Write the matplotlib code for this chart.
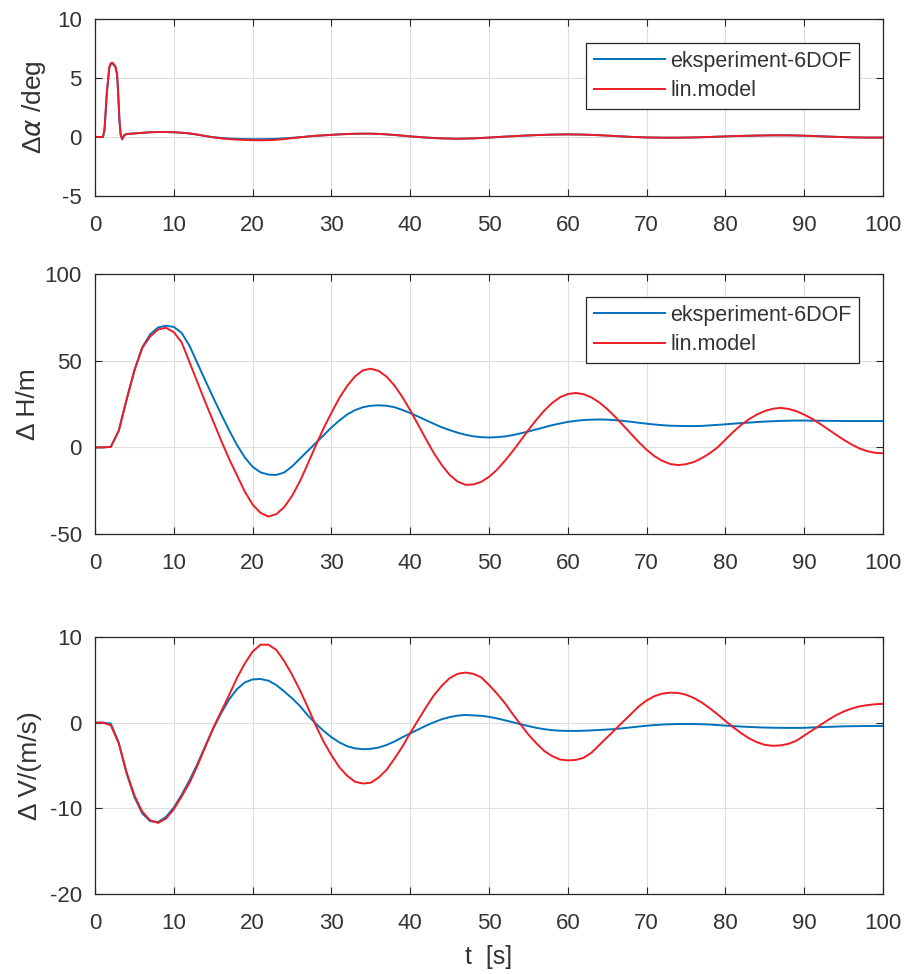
import numpy as np
import matplotlib.pyplot as plt

plt.rcParams['font.family'] = ['Liberation Sans', 'DejaVu Sans']
plt.rcParams['mathtext.fontset'] = 'dejavusans'
plt.rcParams['axes.unicode_minus'] = False

# --- data ------------------------------------------------------------------
t_alpha = [0, 1.0, 1.2, 1.5, 1.8, 2.0, 2.2, 2.4, 2.6, 2.8, 2.95, 3.1, 3.25, 3.45, 3.7,
           4, 5, 6, 7, 8, 9, 10, 11, 12, 13, 14, 15, 16, 17, 18, 19, 20, 21, 22, 23, 24,
           25, 26, 27, 28, 29, 30, 31, 32, 33, 34, 35, 36, 37, 38, 39, 40,
           42, 44, 46, 48, 50, 52, 54, 56, 58, 60, 62, 64, 66, 68, 70, 72, 74, 76, 78,
           80, 82, 84, 86, 88, 90, 92, 94, 96, 98, 100]
alpha_exp = [0, 0, 0.6, 3.7, 5.8, 6.2, 6.25, 6.1, 5.9, 5.3, 3.5, 1.4, 0.2, -0.2, 0.15,
             0.25, 0.3, 0.35, 0.4, 0.42, 0.42, 0.4, 0.36, 0.3, 0.2, 0.08, -0.02, -0.08,
             -0.13, -0.16, -0.18, -0.19, -0.19, -0.18, -0.16, -0.12, -0.07, -0.02,
             0.04, 0.1, 0.14, 0.18, 0.22, 0.25, 0.27, 0.28, 0.28, 0.26, 0.22, 0.17, 0.11, 0.05,
             -0.05, -0.12, -0.15, -0.12, -0.05, 0.03, 0.1, 0.16, 0.2, 0.22, 0.2, 0.15, 0.08,
             0.01, -0.04, -0.06, -0.06, -0.04, 0.0, 0.05, 0.09, 0.12, 0.14, 0.14, 0.11,
             0.06, 0.01, -0.03, -0.05, -0.05]
alpha_lin = [0, 0, 0.6, 3.8, 5.9, 6.25, 6.3, 6.15, 5.95, 5.3, 3.5, 1.4, 0.2, -0.2, 0.15,
             0.25, 0.3, 0.35, 0.4, 0.42, 0.42, 0.4, 0.36, 0.3, 0.2, 0.08, -0.03, -0.12,
             -0.18, -0.22, -0.25, -0.27, -0.28, -0.27, -0.24, -0.18, -0.1, -0.03,
             0.04, 0.1, 0.14, 0.18, 0.22, 0.25, 0.27, 0.28, 0.28, 0.26, 0.22, 0.17, 0.11, 0.05,
             -0.05, -0.12, -0.15, -0.12, -0.05, 0.03, 0.1, 0.16, 0.2, 0.22, 0.2, 0.15, 0.08,
             0.01, -0.04, -0.06, -0.06, -0.04, 0.0, 0.05, 0.09, 0.12, 0.14, 0.14, 0.11,
             0.06, 0.01, -0.03, -0.05, -0.05]

t = np.arange(0, 101)  # 1 s sampling for H and V

H_exp = [0, 0, 0.3, 9.5, 27.5, 44.5, 57.8, 65.3, 69.2, 70.2, 69.5, 66, 58.5, 48.5, 38.5,
         28.7, 19.2, 10, 1.5, -5.8, -11.2, -14.4, -15.7, -15.9, -14.5, -11, -6.5, -2, 2.5,
         7, 11.5, 15.5, 19, 21.5, 23.2, 24, 24.3, 24, 23.2, 21.6, 19.8, 17.8, 15.7, 13.6,
         11.6, 10, 8.5, 7.3, 6.4, 5.9, 5.7, 5.9, 6.3, 7.1, 8.1, 9.2, 10.4, 11.6, 12.8,
         13.8, 14.7, 15.3, 15.8, 16, 16.1, 16, 15.7, 15.3, 14.8, 14.2, 13.7, 13.2, 12.8,
         12.5, 12.4, 12.3, 12.3, 12.4, 12.7, 13, 13.3, 13.7, 14, 14.3, 14.6, 14.9, 15.1,
         15.3, 15.4, 15.5, 15.5, 15.4, 15.4, 15.3, 15.3, 15.2, 15.2, 15.2, 15.2, 15.2, 15.2]
H_lin = [0, 0, 0.3, 9.5, 27.5, 44.5, 57.5, 64, 68, 69, 66.5, 60.5, 49, 37.5, 26, 15, 4,
         -6.5, -16, -25.5, -33, -37.8, -39.9, -38.5, -34.5, -28, -19.5, -9.5, 1, 11, 20,
         28.5, 35.5, 41, 44.5, 45.4, 44.1, 40.8, 35.7, 29.1, 21.4, 13.1, 4.7, -3.3, -10.2,
         -15.9, -19.7, -21.6, -21.4, -19.9, -17, -12.9, -7.8, -2.2, 3.9, 10.1, 15.9, 21.2,
         25.6, 28.9, 30.8, 31.4, 30.7, 28.8, 25.9, 22.1, 17.7, 12.8, 7.9, 3, -1.4, -5.1,
         -7.8, -9.6, -10.2, -9.7, -8.4, -6.2, -3.4, 0, 4.5, 9, 13, 16.3, 19, 21, 22.3, 22.8,
         22.2, 20.9, 18.9, 16.5, 13.6, 10.5, 7.4, 4.4, 1.7, -0.6, -2.2, -3.1, -3.4]

V_exp = [0, 0, -0.1, -2.3, -5.9, -8.7, -10.6, -11.5, -11.6, -11.0, -9.9, -8.4, -6.7, -4.8,
         -2.7, -0.7, 1.1, 2.7, 3.9, 4.7, 5.05, 5.1, 4.9, 4.4, 3.65, 2.85, 1.95, 0.85, -0.1,
         -0.95, -1.7, -2.3, -2.75, -3.0, -3.1, -3.05, -2.9, -2.6, -2.2, -1.7, -1.25, -0.8,
         -0.35, 0.05, 0.4, 0.65, 0.82, 0.9, 0.85, 0.8, 0.68, 0.5, 0.28, 0.05, -0.18, -0.4,
         -0.6, -0.76, -0.87, -0.94, -0.96, -0.96, -0.94, -0.9, -0.85, -0.8, -0.74, -0.65,
         -0.55, -0.45, -0.36, -0.28, -0.22, -0.18, -0.16, -0.15, -0.16, -0.18, -0.22, -0.28,
         -0.34, -0.4, -0.45, -0.5, -0.54, -0.57, -0.59, -0.6, -0.61, -0.61, -0.6, -0.56,
         -0.52, -0.49, -0.46, -0.43, -0.41, -0.4, -0.39, -0.38, -0.37]
V_lin = [0, 0, -0.3, -2.4, -5.8, -8.5, -10.4, -11.4, -11.7, -11.2, -10.1, -8.6, -7.0, -5.0,
         -2.8, -0.6, 1.3, 3.2, 5.2, 6.9, 8.3, 9.1, 9.1, 8.5, 7.2, 5.6, 3.8, 1.8, -0.3, -2.2,
         -3.8, -5.2, -6.2, -6.9, -7.1, -7.0, -6.4, -5.5, -4.2, -2.8, -1.2, 0.3, 1.8, 3.2,
         4.3, 5.2, 5.7, 5.85, 5.7, 5.3, 4.4, 3.4, 2.3, 1.0, -0.2, -1.4, -2.4, -3.3, -3.9,
         -4.3, -4.4, -4.35, -4.1, -3.5, -2.6, -1.7, -0.8, 0.1, 1.0, 1.9, 2.6, 3.1, 3.4, 3.5,
         3.47, 3.26, 2.88, 2.35, 1.69, 0.97, 0.2, -0.55, -1.23, -1.83, -2.28, -2.59, -2.7,
         -2.65, -2.47, -2.1, -1.5, -0.9, -0.3, 0.3, 0.85, 1.3, 1.65, 1.9, 2.05, 2.15, 2.2]

labels = ['eksperiment-6DOF', 'lin.model']
blue = '#0072BD'
red = '#EE1C25'
txt = '#333333'

fig = plt.figure(figsize=(9.06, 9.74), dpi=100)
ax1 = fig.add_axes([0.1049, 0.7988, 0.8698, 0.1817])
ax2 = fig.add_axes([0.1049, 0.4517, 0.8698, 0.2669])
ax3 = fig.add_axes([0.1049, 0.0821, 0.8698, 0.2639])


def style(ax, ylim, yticks):
    ax.set_xlim(0, 100)
    ax.set_ylim(*ylim)
    ax.set_xticks(range(0, 101, 10))
    ax.set_yticks(yticks)
    ax.grid(True, color='#dedede', lw=0.8)
    ax.set_axisbelow(True)
    ax.tick_params(direction='in', top=True, right=True, length=5, width=0.8,
                   color='#262626', labelcolor=txt, labelsize=16)
    ax.tick_params(axis='x', pad=14)
    ax.tick_params(axis='y', pad=9.5)
    for s in ax.spines.values():
        s.set_color('#262626')
        s.set_linewidth(0.9)


ax1.plot(t_alpha, alpha_exp, color=blue, lw=1.4, label=labels[0])
ax1.plot(t_alpha, alpha_lin, color=red, lw=1.4, label=labels[1])
style(ax1, (-5, 10), [-5, 0, 5, 10])
ax1.set_ylabel(r'Δ$\alpha$ /deg', fontsize=19, color=txt)
ax1.yaxis.set_label_coords(-0.060, 0.5)

ax2.plot(t, H_exp, color=blue, lw=1.4, label=labels[0])
ax2.plot(t, H_lin, color=red, lw=1.4, label=labels[1])
style(ax2, (-50, 100), [-50, 0, 50, 100])
ax2.set_ylabel('Δ H/m', fontsize=19, color=txt)
ax2.yaxis.set_label_coords(-0.070, 0.5)

ax3.plot(t, V_exp, color=blue, lw=1.4)
ax3.plot(t, V_lin, color=red, lw=1.4)
style(ax3, (-20, 10), [-20, -10, 0, 10])
ax3.set_ylabel('Δ V/(m/s)', fontsize=19, color=txt)
ax3.yaxis.set_label_coords(-0.067, 0.5)
ax3.set_xlabel('t  [s]', fontsize=18, color=txt)
ax3.xaxis.set_label_coords(0.5, -0.2)

for ax, ytop in [(ax1, 0.864), (ax2, 0.9115)]:
    leg = ax.legend(loc='upper right', bbox_to_anchor=(0.9695, ytop), borderaxespad=0,
                    fancybox=False, fontsize=15.5, handlelength=3.3, handletextpad=0.25,
                    labelspacing=0.4, borderpad=0.35, framealpha=1)
    leg.get_frame().set_edgecolor('#262626')
    leg.get_frame().set_linewidth(0.9)
    for tx in leg.get_texts():
        tx.set_color(txt)

fig.savefig('out.png', dpi=100)
